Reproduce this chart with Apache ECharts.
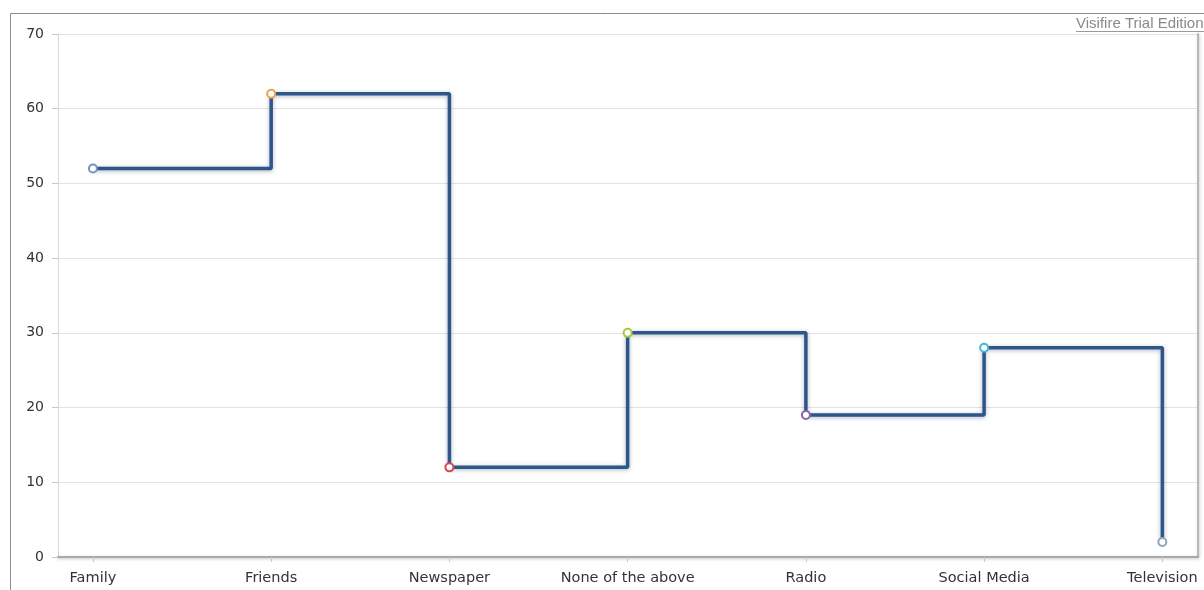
<!DOCTYPE html>
<html>
<head>
<meta charset="utf-8">
<script src="https://cdn.jsdelivr.net/npm/echarts@6/dist/echarts.min.js"></script>
<style>
  html, body { margin: 0; padding: 0; background: #fff; }
  #chart { width: 1204px; height: 590px; }
</style>
</head>
<body>
<div id="chart"></div>
<script>
// Source of information, by channel
const categories = ['Family', 'Friends', 'Newspaper', 'None of the above', 'Radio', 'Social Media', 'Television'];
const values = [52, 62, 12, 30, 19, 28, 2];
const markerColors = ['#6f93c8', '#f0a24e', '#d2475a', '#a9c83e', '#8a64a6', '#41b9d6', '#8fa6bd'];
const yTicks = [0, 10, 20, 30, 40, 50, 60, 70];

const chart = echarts.init(document.getElementById('chart'), null, { renderer: 'canvas' });
const font = 'DejaVu Sans, Verdana, sans-serif';
const positions = categories.map((_, i) => i);

chart.setOption({
  animation: false,
  backgroundColor: '#fff',
  grid: { left: 58, right: 6, top: 34, bottom: 33, containLabel: false },
  xAxis: {
    type: 'value',
    min: -0.196,
    max: 6.2,
    axisLine: { show: true, onZero: false, lineStyle: { color: '#a9a9a9', width: 2, shadowColor: 'rgba(0,0,0,0.25)', shadowBlur: 3, shadowOffsetY: 1 } },
    axisTick: { show: true, customValues: positions, length: 5, lineStyle: { color: '#c8c8c8' } },
    axisLabel: {
      customValues: positions,
      formatter: v => categories[Math.round(v)],
      color: '#333', fontFamily: font, fontSize: 14.5, margin: 14
    },
    splitLine: { show: false }
  },
  yAxis: [{
    type: 'value',
    min: yTicks[0],
    max: yTicks[yTicks.length - 1],
    interval: 10,
    axisLine: { show: true, onZero: false, lineStyle: { color: '#d6d6d6' } },
    axisTick: { show: true, length: 6, lineStyle: { color: '#c8c8c8' } },
    axisLabel: { color: '#333', fontFamily: font, fontSize: 14, margin: 14 },
    splitLine: { show: true, lineStyle: { color: '#e2e2e2' } }
  }, {
    type: 'value',
    position: 'right',
    min: yTicks[0],
    max: yTicks[yTicks.length - 1],
    axisLine: { show: true, onZero: false, lineStyle: { color: '#b8b8b8', width: 2, shadowColor: 'rgba(0,0,0,0.2)', shadowBlur: 3, shadowOffsetX: 1 } },
    axisTick: { show: false },
    axisLabel: { show: false },
    splitLine: { show: false }
  }],
  series: [{
    type: 'line',
    step: 'end',
    data: values.map((v, i) => ({
      value: [i, v],
      itemStyle: { color: '#fff', borderColor: markerColors[i], borderWidth: 2 }
    })),
    symbol: 'circle',
    symbolSize: 8,
    lineStyle: { color: '#2d5689', width: 3.5, shadowColor: 'rgba(20,40,80,0.35)', shadowBlur: 4, shadowOffsetY: 1 },
    z: 3
  }],
  graphic: [
    { type: 'polyline', shape: { points: [[10.5, 600], [10.5, 13.5], [1210, 13.5]] }, style: { stroke: '#8c8c8c', fill: null, lineWidth: 1 }, silent: true },
    { type: 'text', left: 1076, top: 16, style: { text: 'Visifire Trial Edition', fill: '#8a8a8a', font: '15px Liberation Sans, Arial, sans-serif' }, silent: true },
    { type: 'line', shape: { x1: 1076, y1: 31.5, x2: 1206, y2: 31.5 }, style: { stroke: '#9a9a9a', lineWidth: 1 }, silent: true }
  ]
});
</script>
</body>
</html>
